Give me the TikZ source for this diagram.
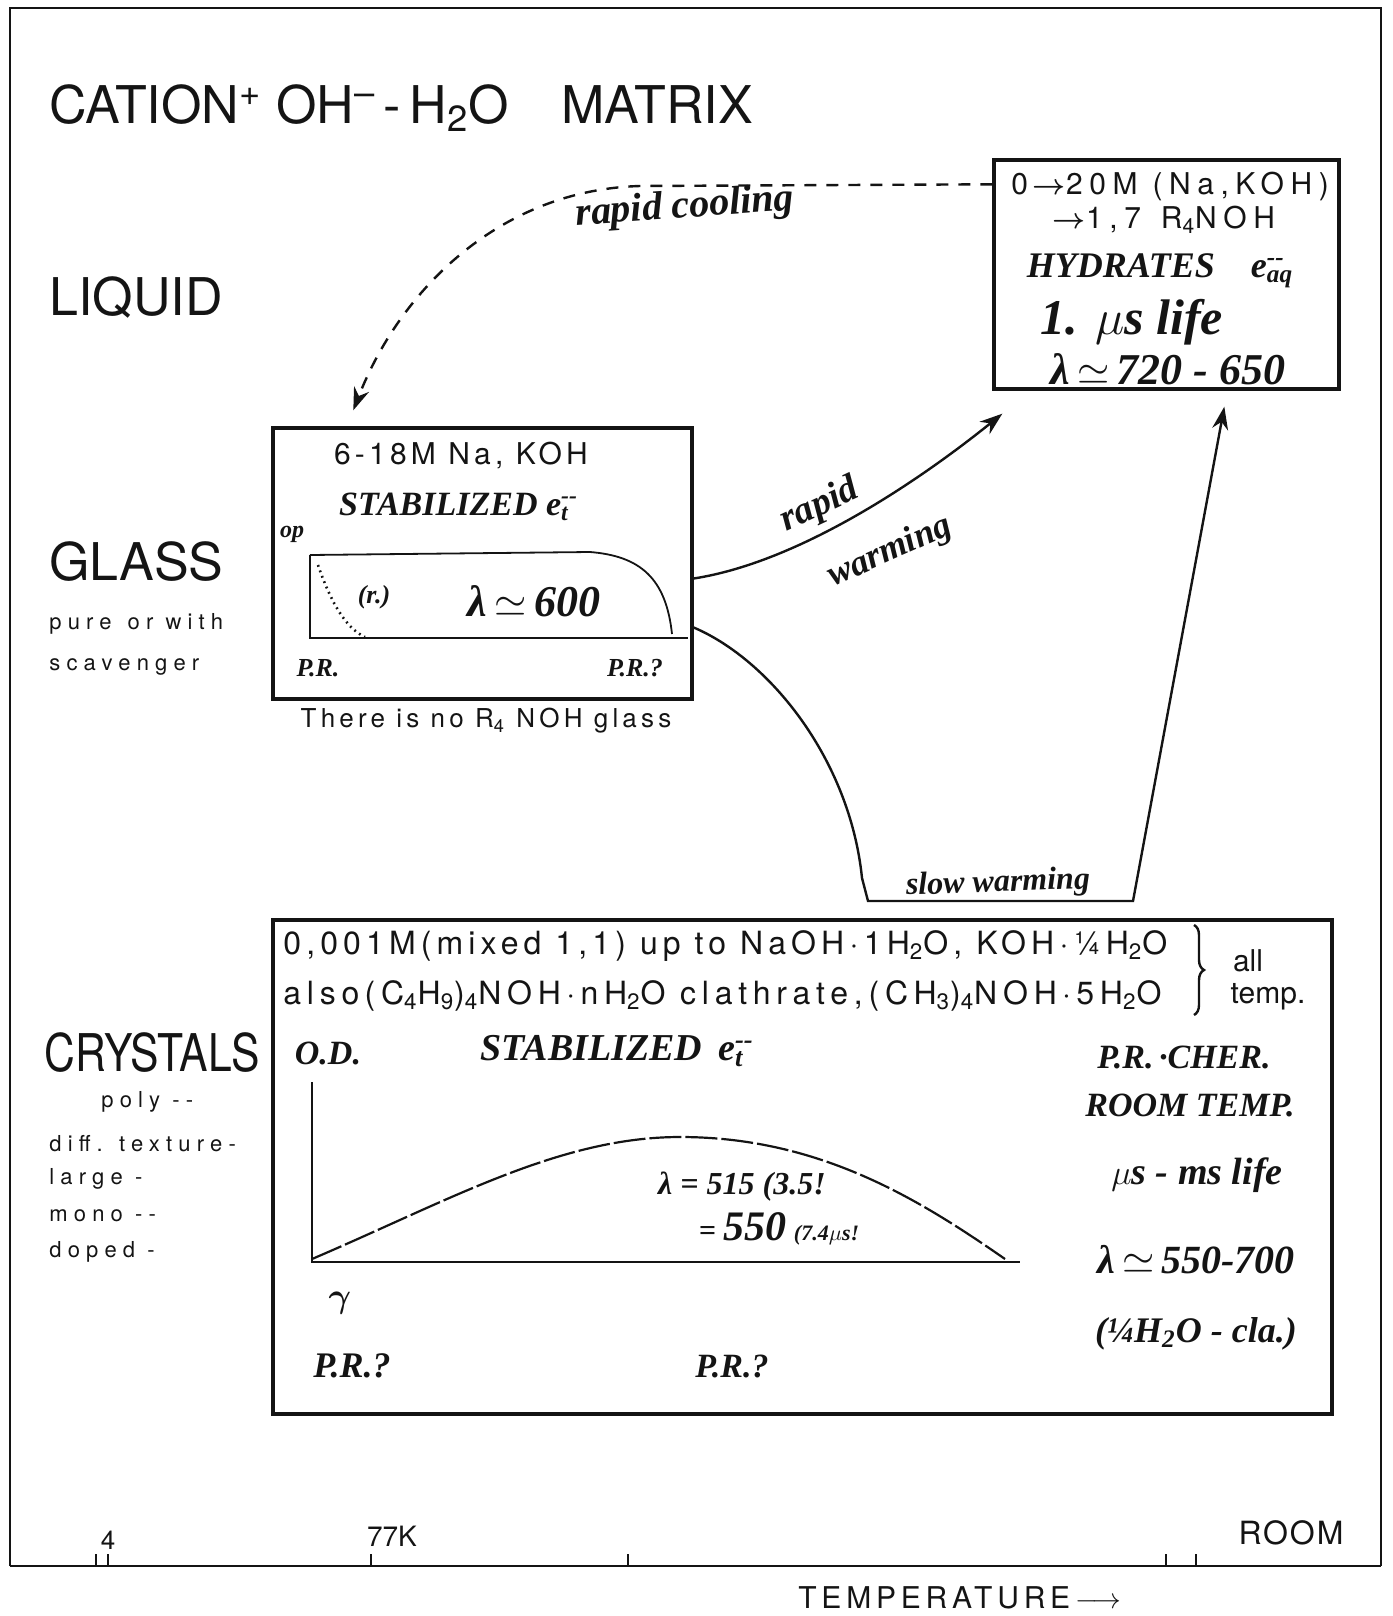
\documentclass[tikz,border=0pt]{standalone}
\usepackage{amsmath}
\usepackage{fontspec}
\usepackage{xcolor}
\usepackage{tikz}
\usetikzlibrary{positioning,arrows.meta,calc,decorations.pathreplacing}
\setmainfont{TeX Gyre Heros}
\newfontfamily\spaced{TeX Gyre Heros}[LetterSpace=22]
\newfontfamily\handf{Liberation Serif}
\newcommand{\fsz}[1]{\fontsize{#1}{#1}\selectfont}
\definecolor{ink}{RGB}{20,20,20}
\tikzset{
  panel/.style={rectangle, draw=ink, line width=1.7pt, inner sep=0pt},
  frame/.style={draw=ink, line width=1.4pt},
  head/.style={anchor=west, inner sep=0pt, text=ink, font=\fsz{26}},
  note/.style={inner sep=0pt, text=ink, font=\spaced\fsz{15}},
  lst/.style={anchor=west, inner sep=0pt, text=ink, font=\spaced\addfontfeature{LetterSpace=28}\fsz{11}},
  hand/.style={inner sep=0pt, text=ink, font=\handf\bfseries\itshape\fsz{16}},
  curve/.style={draw=ink, line width=0.9pt},
  flow/.style={-{Stealth[length=4mm,width=2.8mm]}, draw=ink, line width=1.2pt},
  flowd/.style={flow, dash pattern=on 6pt off 5pt},
  tick/.style={draw=ink, line width=0.8pt},
}

\begin{document}
\begin{tikzpicture}[x=0.5pt, y=-0.5pt]
  \useasboundingbox (0,0) rectangle (1392,1616);

  % frame and temperature axis
  \draw[frame] (10,1566) -- (10,8) -- (1381,8) -- (1381,1566);
  \draw[frame] (10,1566) -- (1381,1566);
  \foreach \tx in {96,108,371,628,1166,1196}
    \draw[tick] (\tx,1566) -- (\tx,1554);
  \node[note, font=\fsz{13}] (t4) at (108,1540) {4};
  \node[note, font=\fsz{14}] (t77) at (392,1536) {77K};
  \node[note, font=\spaced\addfontfeature{LetterSpace=6}\fsz{16}] (troom) at (1291,1533) {ROOM};
  \node[note, font=\spaced\addfontfeature{LetterSpace=16}\fsz{15}] (taxis) at (960,1598) {TEMPERATURE\,$\longrightarrow$};

  % headings
  \node[head] (title) at (49,108)
    {CATION\textsuperscript{+} OH\textsuperscript{--}\,-\,H\textsubscript{2}O\quad MATRIX};
  \node[head] (liquid) at (49,297) {LIQUID};
  \node[head] (glasslbl) at (49,562) {GLASS};
  \node[lst] (pure) at (49,624) {pure\, or with};
  \node[lst] (scav) at (49,667) {scavenger};
  \node[head] (crystlbl) at (44,1053) {\scalebox{0.82}[1]{CRYSTALS}};
  \node[lst] (poly) at (101,1102) {poly --};
  \node[lst] (diff) at (49,1144) {diff. texture-};
  \node[lst] (large) at (49,1179) {large -};
  \node[lst] (mono) at (49,1216) {mono --};
  \node[lst] (doped) at (49,1252) {doped -};

  % liquid box
  \node[panel, minimum width=172.5pt, minimum height=114.5pt] (liq) at (1166.5,274.5) {};
  \node[note] (liq1) at (1170,186) {0\,$\boldsymbol{\rightarrow}$20M (Na,KOH)};
  \node[note] (liq2) at (1164,220) {$\boldsymbol{\rightarrow}$1,7\, R\textsubscript{4}NOH};
  \node[hand, font=\handf\bfseries\itshape\fsz{18}] (liq3) at (1160,271) {HYDRATES\quad e\rlap{\textsuperscript{--}}\textsubscript{aq}};
  \node[hand, font=\handf\bfseries\itshape\fsz{25}] (liq4) at (1132,322) {1. $\mu$s life};
  \node[hand, font=\handf\bfseries\itshape\fsz{22}] (liq5) at (1168,369) {λ\,$\simeq$\,720 - 650};

  % glass box
  \node[panel, minimum width=209.5pt, minimum height=135.5pt] (glass) at (482.5,563.5) {};
  \node[note, font=\spaced\addfontfeature{LetterSpace=14}\fsz{15}] (gl1) at (461,455) {6-18M Na, KOH};
  \node[hand, font=\handf\bfseries\itshape\fsz{17}] (gl2) at (454,507) {STABILIZED e\rlap{\textsuperscript{--}}\textsubscript{t}};
  \node[hand, font=\handf\bfseries\itshape\fsz{12}] (glop) at (292,534) {op};
  \draw[curve] (310,555) -- (310,638) -- (688,638);
  \draw[curve] (310,555) -- (590,552) .. controls (640,556) and (666,578) .. (672,634);
  \draw[curve, dotted, line width=1.3pt] (318,565) .. controls (330,600) and (345,628) .. (365,637);
  \node[hand, font=\handf\bfseries\itshape\fsz{13}] (glr) at (374,597) {(r.)};
  \node[hand, font=\handf\bfseries\itshape\fsz{22}] (gllam) at (534,601) {λ\,$\simeq$\,600};
  \node[hand, font=\handf\bfseries\itshape\fsz{13}] (glpr) at (318,668) {P.R.};
  \node[hand, font=\handf\bfseries\itshape\fsz{13}] (glprq) at (635,668) {P.R.?};
  \node[note, font=\spaced\addfontfeature{LetterSpace=16}\fsz{13}] (noglass) at (486,721)
    {There is no R\textsubscript{4} NOH glass};

  % crystals box
  \node[panel, minimum width=529.5pt, minimum height=247pt] (cryst) at (802.5,1167) {};
  \node[note, anchor=west, font=\spaced\addfontfeature{LetterSpace=16}\fsz{16}] (cr1) at (283,946)
    {0,001M(mixed 1,1) up to NaOH\,·\,1H\textsubscript{2}O, KOH\,·\,¼\,H\textsubscript{2}O};
  \node[note, anchor=west, font=\spaced\addfontfeature{LetterSpace=18}\fsz{16}] (cr2) at (283,996)
    {also\,(C\textsubscript{4}H\textsubscript{9})\textsubscript{4}NOH\,·\,nH\textsubscript{2}O clathrate,(CH\textsubscript{3})\textsubscript{4}NOH\,·\,5H\textsubscript{2}O};
  \draw[curve, line width=1.2pt, decorate, decoration={brace, amplitude=5pt}] (1194,925) -- (1194,1015);
  \node[note, font=\fsz{15}] (crall) at (1248,961) {all};
  \node[note, font=\fsz{15}] (crtemp) at (1268,997) {temp.};
  \node[hand, font=\handf\bfseries\itshape\fsz{17}] (crod) at (328,1053) {O.D.};
  \node[hand, font=\handf\bfseries\itshape\fsz{19}] (crst) at (612,1051)
    {STABILIZED\, e\rlap{\textsuperscript{--}}\textsubscript{t}};
  \node[hand, font=\handf\bfseries\itshape\fsz{17}] (crpr) at (1184,1057) {P.R.\,·CHER.};
  \node[hand, font=\handf\bfseries\itshape\fsz{17}] (crroom) at (1190,1105) {ROOM TEMP.};
  \node[hand, font=\handf\bfseries\itshape\fsz{19}] (crlife) at (1197,1175) {$\mu$s - ms life};
  \node[hand, font=\handf\bfseries\itshape\fsz{20}] (crlam) at (1196,1260) {λ\,$\simeq$\,550-700};
  \node[hand, font=\handf\bfseries\itshape\fsz{18}] (crcla) at (1196,1334) {(¼H\textsubscript{2}O - cla.)};
  \draw[curve] (312,1082) -- (312,1262) -- (1020,1262);
  \draw[curve, dash pattern=on 16pt off 2pt, line width=1.1pt] (312,1259)
    .. controls (450,1200) and (560,1137) .. (680,1137)
    .. controls (820,1137) and (920,1200) .. (1005,1259);
  \node[hand, font=\handf\bfseries\itshape\fsz{16}] (crl1) at (742,1187) {λ = 515 (3.5!};
  \node[hand, font=\handf\bfseries\itshape\fsz{15}] (crl2) at (779,1229)
    {= {\fsz{21}550} {\fsz{11}(7.4$\mu$s!}};
  \node[hand, font=\handf\bfseries\itshape\fsz{16}] (crgam) at (340,1303) {$\boldsymbol{\gamma}$};
  \node[hand, font=\handf\bfseries\itshape\fsz{18}] (crpr1) at (352,1366) {P.R.?};
  \node[hand, font=\handf\bfseries\itshape\fsz{17}] (crpr2) at (732,1366) {P.R.?};

  % transitions
  \coordinate (cooltip) at ($(glass.north west)+(82,-16)$);
  \draw[flowd] ($(liq.north west)+(0,26)$) -- (640,186)
    .. controls (500,190) and (400,290) .. (cooltip);
  \node[hand, font=\handf\bfseries\itshape\fsz{20}, rotate=4] (lcool) at (685,208) {rapid cooling};
  \draw[flow] ($(glass.east)+(0,15)$) .. controls (800,562) and (920,480) .. ($(liq.south west)+(10,23)$);
  \node[hand, font=\handf\bfseries\itshape\fsz{19}, rotate=25] (lrw1) at (820,506) {rapid};
  \node[hand, font=\handf\bfseries\itshape\fsz{18}, rotate=24] (lrw2) at (890,552) {warming};
  \draw[flow] ($(glass.east)+(0,64)$) .. controls (770,660) and (850,760) .. (862,878)
    -- (868,901) -- (1133,901) -- ($(liq.south west)+(232,16)$);
  \node[hand, font=\handf\bfseries\itshape\fsz{16}, rotate=2] (lslow) at (998,884) {slow warming};
\end{tikzpicture}
\end{document}
